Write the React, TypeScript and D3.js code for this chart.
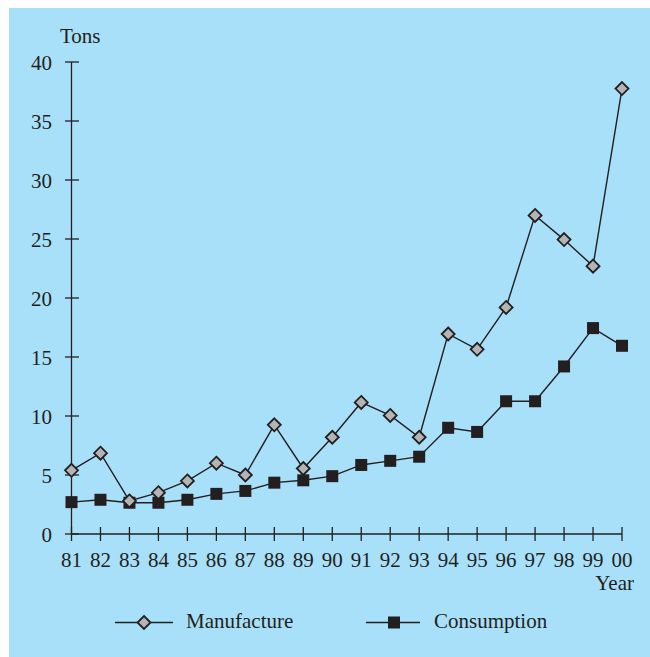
import React from "react";
import * as d3 from "d3";

const years = ["81","82","83","84","85","86","87","88","89","90","91","92","93","94","95","96","97","98","99","00"];
const manufacture = [5.4,6.85,2.8,3.5,4.5,6.0,5.0,9.25,5.55,8.2,11.15,10.05,8.2,16.95,15.65,19.2,27.0,24.95,22.7,37.75];
const consumption = [2.7,2.9,2.65,2.65,2.9,3.4,3.65,4.35,4.55,4.9,5.85,6.2,6.55,9.0,8.65,11.25,11.25,14.2,17.45,15.95];
const yTicks = [0,5,10,15,20,25,30,35,40];
const seriesNames = ["Manufacture","Consumption"];

const W = 650, H = 657;
const BG = "#a8e0f9";
const INK = "#231f20";
const FONT = "'Liberation Serif', 'Times New Roman', serif";
const FS = 21;

export default function App() {
  const x = d3.scalePoint<string>().domain(years).range([71.5, 622]);
  const y = d3.scaleLinear().domain([0, 40]).range([534, 62]);
  const line = d3.line<number>().x((_, i) => x(years[i])!).y(d => y(d));

  const diamond = (cx: number, cy: number, key: string) => {
    const r = 6.5;
    return <path key={key} d={`M${cx},${cy - r}L${cx + r},${cy}L${cx},${cy + r}L${cx - r},${cy}Z`} fill="#b4b4b4" stroke={INK} strokeWidth={1.8} />;
  };
  const square = (cx: number, cy: number, key: string) => {
    const s = 12;
    return <rect key={key} x={cx - s / 2} y={cy - s / 2} width={s} height={s} fill={INK} />;
  };

  return (
    <svg width={W} height={H} style={{ position: "fixed", left: 0, top: 0 }} fontFamily={FONT}>
      <rect x={9} y={8} width={W - 9} height={H - 8} fill={BG} />
      {/* y axis */}
      <line x1={71.5} x2={71.5} y1={y(40)} y2={y(0)} stroke={INK} strokeWidth={1.3} />
      {yTicks.map(t => (
        <g key={"yt" + t}>
          <line x1={65} x2={79} y1={y(t)} y2={y(t)} stroke={INK} strokeWidth={1.3} />
          <text x={52} y={y(t) + 8} textAnchor="end" fontSize={FS} fill={INK}>{t}</text>
        </g>
      ))}
      <text x={60} y={43} fontSize={FS} fill={INK}>Tons</text>
      {/* x axis */}
      <line x1={x(years[0])} x2={x(years[years.length - 1])} y1={y(0)} y2={y(0)} stroke={INK} strokeWidth={1.3} />
      {years.map(yr => (
        <g key={"xt" + yr}>
          <line x1={x(yr)} x2={x(yr)} y1={527} y2={541} stroke={INK} strokeWidth={1.3} />
          <text x={x(yr)} y={567} textAnchor="middle" fontSize={FS} fill={INK}>{yr}</text>
        </g>
      ))}
      <text x={634} y={590} textAnchor="end" fontSize={FS} fill={INK}>Year</text>
      {/* series */}
      <path d={line(consumption)!} fill="none" stroke={INK} strokeWidth={1.4} />
      <path d={line(manufacture)!} fill="none" stroke={INK} strokeWidth={1.4} />
      {consumption.map((v, i) => square(x(years[i])!, y(v), "c" + i))}
      {manufacture.map((v, i) => diamond(x(years[i])!, y(v), "m" + i))}
      {/* legend */}
      <line x1={115} x2={173} y1={622.5} y2={622.5} stroke={INK} strokeWidth={1.3} />
      {diamond(144, 622.5, "lm")}
      <text x={186} y={628} fontSize={FS} fill={INK}>{seriesNames[0]}</text>
      <line x1={366} x2={420} y1={622.5} y2={622.5} stroke={INK} strokeWidth={1.3} />
      {square(394, 622.5, "lc")}
      <text x={434} y={628} fontSize={FS} fill={INK}>{seriesNames[1]}</text>
    </svg>
  );
}
